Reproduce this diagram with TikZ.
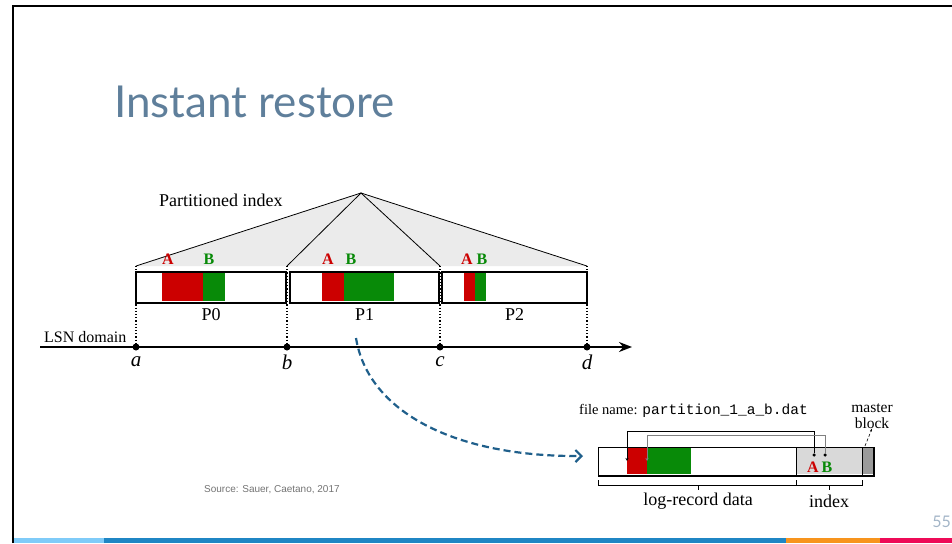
\documentclass[tikz,border=0pt]{standalone}
\usepackage{fontspec}
\setmainfont{Liberation Serif}
\setmonofont{Liberation Mono}
\newfontfamily\titlefont{Lato}
\newfontfamily\notefont{Liberation Sans}
\usetikzlibrary{arrows.meta,positioning,calc}
\definecolor{titleblue}{HTML}{5F7F9B}
\definecolor{pagegrey}{HTML}{A3B5C7}
\definecolor{recred}{HTML}{CC0000}
\definecolor{recgreen}{HTML}{088A08}
\definecolor{idxgrey}{HTML}{D9D9D9}
\definecolor{mastergrey}{HTML}{9A9A9A}
\definecolor{triangrey}{HTML}{EBEBEB}
\definecolor{arcblue}{HTML}{1F5F8B}
\definecolor{barlight}{HTML}{7FCBF8}
\definecolor{barblue}{HTML}{1F86C4}
\definecolor{barorange}{HTML}{F7941D}
\definecolor{barred}{HTML}{EE0A57}
\tikzset{
    % partition boxes and file box
    partbox/.style={draw, line width=1.2pt, fill=white, inner sep=0pt,
        minimum height=30pt},
    reclabel/.style={font=\fontsize{16}{16}\selectfont\bfseries, inner sep=0pt},
    difftext/.style={font=\fontsize{18}{19}\selectfont, inner sep=1pt},
    boundary/.style={dotted, line width=1.2pt},
    lsndot/.style={circle, fill=black, inner sep=0pt, minimum size=7pt},
    ptrline/.style={line width=0.7pt, -{Stealth[length=3pt, width=3pt]}},
    restorearrow/.style={
        arcblue, line width=2.2pt, dash pattern=on 7pt off 4pt,
        -{Straight Barb[length=6pt, width=12pt, line width=2.2pt]}
    }
}
\begin{document}
\begin{tikzpicture}[x=1pt, y=-1pt]
   \useasboundingbox (0,0) rectangle (952,543);

   % slide frame and colour bar
   \draw[line width=2pt] (13,543) -- (13,6) -- (952,6);
   \fill[barlight] (14,538) rectangle (104,543);
   \fill[barblue] (104,538) rectangle (786,543);
   \fill[barorange] (786,538) rectangle (880,543);
   \fill[barred] (880,538) rectangle (952,543);

   \node[anchor=base west, inner sep=0pt, text=titleblue,
         font=\titlefont\fontsize{44}{44}\selectfont] (title) at (114,117) {Instant restore};

   \path
    (361,193) coordinate (apex)
    (136,266) coordinate (t0)
    (287,266) coordinate (t1)
    (440,266) coordinate (t2)
    (587,266) coordinate (t3);

   % index triangle
   \fill[triangrey] (t0) -- (apex) -- (t3) -- cycle;
   \draw[line width=0.8pt] (t0) -- (apex) -- (t3);
   \draw[line width=0.8pt] (t1) -- (apex) -- (t2);
   \node[difftext, anchor=west] (pidx) at (158,200) {Partitioned index};

   % partitions
   \node[partbox, minimum width=149pt, anchor=north west] (p0) at (136,272) {};
   \node[partbox, minimum width=148pt, anchor=north west] (p1) at (290,272) {};
   \node[partbox, minimum width=144pt, anchor=north west] (p2) at (442,272) {};
   \fill[recred] (162,273) rectangle (203,301);
   \fill[recgreen] (203,273) rectangle (225,301);
   \fill[recred] (322,273) rectangle (344,301);
   \fill[recgreen] (344,273) rectangle (394,301);
   \fill[recred] (464,273) rectangle (475,301);
   \fill[recgreen] (475,273) rectangle (486,301);
   \foreach \p in {p0,p1,p2}
     \draw[line width=1.2pt] (\p.north west) rectangle (\p.south east);

   \node[reclabel, text=recred] (a0) at (168,259) {A};
   \node[reclabel, text=recgreen] (b0) at (209,259) {B};
   \node[reclabel, text=recred] (a1) at (328,259) {A};
   \node[reclabel, text=recgreen] (b1) at (351,259) {B};
   \node[reclabel, text=recred] (a2) at (467,259) {A};
   \node[reclabel, text=recgreen] (b2) at (482,259) {B};

   \node[difftext] (l0) at (p0.south) [yshift=-11pt] {P0};
   \node[difftext] (l1) at (p1.south) [yshift=-11pt] {P1};
   \node[difftext] (l2) at (p2.south) [yshift=-11pt] {P2};

   % LSN axis
   \coordinate (axstart) at (40,347);
   \coordinate (axend) at (632,347);
   \draw[line width=1.8pt, -{Stealth[length=13pt, width=10pt]}] (axstart) -- (axend);
   \node[difftext, font=\fontsize{16}{17}\selectfont, anchor=south west] (lsn) at (43,344) {LSN domain};
   \foreach \x/\n in {136/a, 287/b, 440/c, 587/d} {
     \node[lsndot] (\n) at (\x,347) {};
     \node[font=\fontsize{21}{21}\selectfont\itshape] (lab\n) at (\x,362) {\n};
   }
   \foreach \n/\t in {a/t0, b/t1, c/t2, d/t3}
     \draw[boundary] (\t) -- (\n);

   % restore arrow
   \coordinate (arcstart) at (356,338);
   \coordinate (arcend) at (583,456);
   \draw[restorearrow] (arcstart) .. controls (368,412) and (455,457) .. (arcend);

   % partition file
   \node[anchor=base west, inner sep=0pt, font=\fontsize{14.5}{14.5}\selectfont] (fname) at (579,414)
     {file name: \texttt{partition\_1\_a\_b.dat}};
   \node[partbox, minimum width=275pt, minimum height=28pt, anchor=north west, line width=1pt] (file) at (598,447) {};
   \fill[recred] (627,448) rectangle (647,474);
   \fill[recgreen] (647,448) rectangle (691,474);
   \fill[idxgrey] (796,448) rectangle (862,474);
   \fill[mastergrey] (862,448) rectangle (873,474);
   \draw[line width=1pt] (file.north west) rectangle (file.south east);
   \draw[line width=1pt] (796,447) -- (796,475);
   \draw[line width=0.8pt] (862,447) -- (862,475);

   \node[circle, fill=black, inner sep=0pt, minimum size=3.5pt] (pa) at (814,455) {};
   \node[circle, fill=black, inner sep=0pt, minimum size=3.5pt] (pb) at (825,455) {};
   \draw[ptrline] (pa) -- (814,431) -- (627,431) -- (627,461);
   \draw[ptrline, black!50] (pb) -- (825,435) -- (647,435) -- (647,461);
   \node[reclabel, text=recred] (fa) at (813,467) {A};
   \node[reclabel, text=recgreen] (fb) at (827,467) {B};

   \node[font=\fontsize{15.5}{16}\selectfont, align=center, inner sep=0pt] (master) at (872,416) {master\\block};
   \draw[densely dashed, line width=0.6pt, -{Stealth[length=3pt]}] (865,446) -- (master.south);

   % braces
   \draw[line width=0.6pt] (598,480) -- (598,485) -- (796,485) -- (796,480)
     (698,485) -- (698,490) (796,485) -- (862,485) -- (862,480) (829,485) -- (829,490);
   \node[difftext] (logdata) at (698,501) {log-record data};
   \node[difftext] (idx) at (829,501) {index};

   \node[anchor=west, inner sep=0pt, text=black!55, font=\notefont\fontsize{10}{10}\selectfont] (src) at (204,490) {Source: Sauer, Caetano, 2017};
   \node[anchor=east, inner sep=0pt, text=pagegrey, font=\titlefont\fontsize{16}{16}\selectfont] (pg) at (951,522) {55};
\end{tikzpicture}
\end{document}
